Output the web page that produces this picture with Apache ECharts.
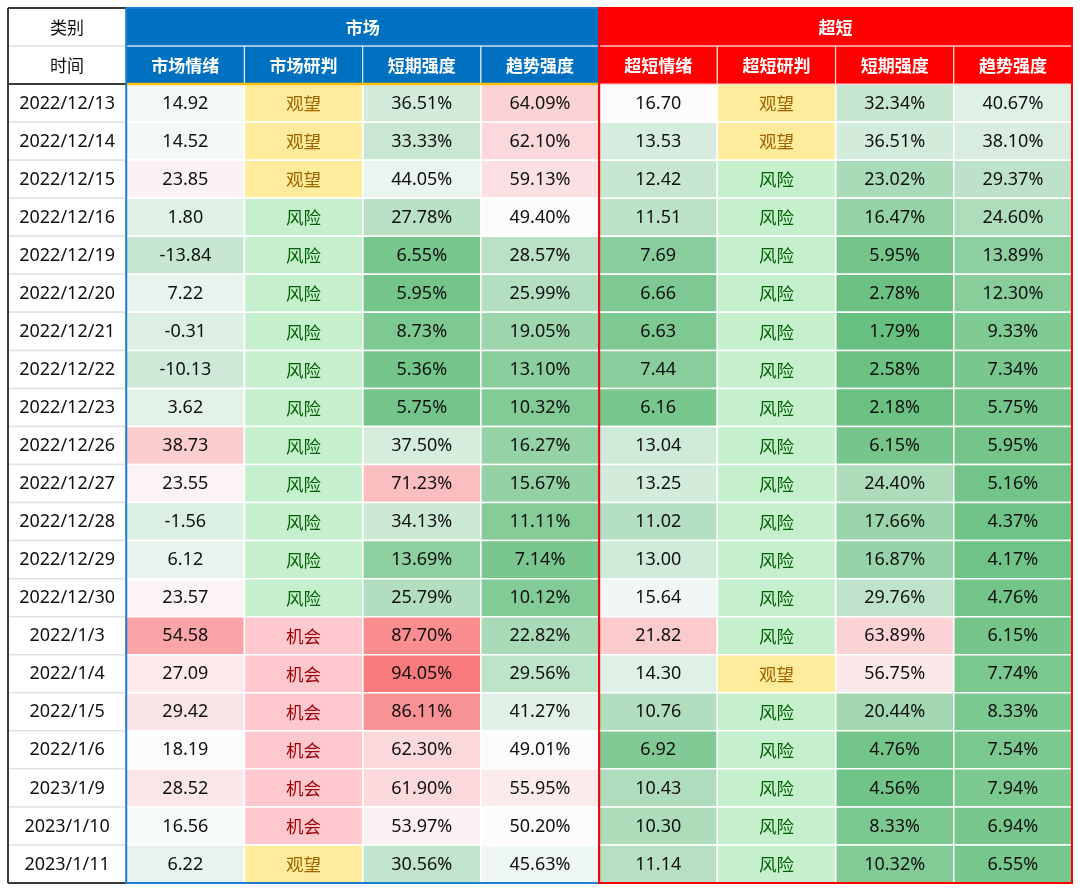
<!DOCTYPE html>
<html><head><meta charset="utf-8">
<script src="https://cdn.jsdelivr.net/npm/echarts/dist/echarts.min.js"></script>
<style>html,body{margin:0;padding:0;background:#fff}#c{width:1080px;height:892px}</style>
</head><body><div id="c"></div>
<script>
// ---------- data ----------
const cornerLabels = ['类别', '时间'];
const groupNames = ['市场', '超短'];
const colNames = ['市场情绪', '市场研判', '短期强度', '趋势强度', '超短情绪', '超短研判', '短期强度', '趋势强度'];
const dates = ['2022/12/13','2022/12/14','2022/12/15','2022/12/16','2022/12/19','2022/12/20','2022/12/21','2022/12/22','2022/12/23','2022/12/26','2022/12/27','2022/12/28','2022/12/29','2022/12/30','2022/1/3','2022/1/4','2022/1/5','2022/1/6','2023/1/9','2023/1/10','2023/1/11'];
const mktMood  = [14.92,14.52,23.85,1.80,-13.84,7.22,-0.31,-10.13,3.62,38.73,23.55,-1.56,6.12,23.57,54.58,27.09,29.42,18.19,28.52,16.56,6.22];
const mktJudge = ['观望','观望','观望','风险','风险','风险','风险','风险','风险','风险','风险','风险','风险','风险','机会','机会','机会','机会','机会','机会','观望'];
const mktShort = [36.51,33.33,44.05,27.78,6.55,5.95,8.73,5.36,5.75,37.50,71.23,34.13,13.69,25.79,87.70,94.05,86.11,62.30,61.90,53.97,30.56];
const mktTrend = [64.09,62.10,59.13,49.40,28.57,25.99,19.05,13.10,10.32,16.27,15.67,11.11,7.14,10.12,22.82,29.56,41.27,49.01,55.95,50.20,45.63];
const ultMood  = [16.70,13.53,12.42,11.51,7.69,6.66,6.63,7.44,6.16,13.04,13.25,11.02,13.00,15.64,21.82,14.30,10.76,6.92,10.43,10.30,11.14];
const ultJudge = ['观望','观望','风险','风险','风险','风险','风险','风险','风险','风险','风险','风险','风险','风险','风险','观望','风险','风险','风险','风险','风险'];
const ultShort = [32.34,36.51,23.02,16.47,5.95,2.78,1.79,2.58,2.18,6.15,24.40,17.66,16.87,29.76,63.89,56.75,20.44,4.76,4.56,8.33,10.32];
const ultTrend = [40.67,38.10,29.37,24.60,13.89,12.30,9.33,7.34,5.75,5.95,5.16,4.37,4.17,4.76,6.15,7.74,8.33,7.54,7.94,6.94,6.55];

// ---------- styles ----------
const FONT = "'Noto Sans', 'Noto Sans CJK SC', sans-serif";
const CJK = "'Noto Sans CJK SC', sans-serif";
const GREEN = [99,190,123], WHITE = [252,252,255], RED = [248,105,107];
const judgeStyle = {
  '观望': {bg:'#FFEB9C', fg:'#9C6500'},
  '风险': {bg:'#C6EFCE', fg:'#006100'},
  '机会': {bg:'#FFC7CE', fg:'#9C0006'}
};
const BLUE = '#0070C0', REDH = '#FF0000';

function mix(a, b, t) { return 'rgb(' + a.map((v, i) => Math.round(v + (b[i] - v) * t)).join(',') + ')'; }
function heat(v, sc) {
  if (v <= sc[1]) return mix(WHITE, GREEN, Math.min(1, (sc[1] - v) / (sc[1] - sc[0])));
  return mix(WHITE, RED, Math.min(1, (v - sc[1]) / (sc[2] - sc[1])));
}

// numeric columns: [column index, values, formatter, colour scale lo/mid/hi]
const fix2 = v => v.toFixed(2), pct = v => v.toFixed(2) + '%';
const numCols = [
  [1, mktMood, fix2, [-80, 20, 78]],
  [3, mktShort, pct, [0, 50, 100]],
  [4, mktTrend, pct, [0, 50, 100]],
  [5, ultMood, fix2, [4.5, 16.6, 32]],
  [7, ultShort, pct, [0, 50, 100]],
  [8, ultTrend, pct, [0, 50, 100]]
];
const judgeCols = [[2, mktJudge], [6, ultJudge]];

const ROW0 = 2; // first data row (after two header rows)
const numItems = [];
numCols.forEach(([c, vals, f, sc]) => vals.forEach((v, i) => numItems.push({value: [c, i + ROW0, v], text: f(v), fill: heat(v, sc)})));
const judgeItems = [];
judgeCols.forEach(([c, vals]) => vals.forEach((v, i) => judgeItems.push({value: [c, i + ROW0], text: v, fill: judgeStyle[v].bg, fg: judgeStyle[v].fg})));
const dateItems = cornerLabels.map((t, i) => ({value: [0, i], text: t})).concat(dates.map((d, i) => ({value: [0, i + ROW0], text: d})));
const headerItems = [
  {value: [1, 4, 0], text: groupNames[0], fill: BLUE, line: '#9DC3E6'},
  {value: [5, 8, 0], text: groupNames[1], fill: REDH, line: '#FF9A9A'}
].concat(colNames.map((n, i) => ({value: [i + 1, i + 1, 1], text: n, fill: i < 4 ? BLUE : REDH, line: i < 4 ? '#D6E6F5' : '#FFD0D0'})));

function cell(api, x0, x1, row) {
  const a = api.coord([x0, row]), b = api.coord([x1, row]), s = api.size([1, 1]);
  return {x: a[0] - s[0] / 2, y: a[1] - s[1] / 2, width: b[0] - a[0] + s[0], height: s[1]};
}
function txt(r, text, fill, bold, fam, size) {
  return {type: 'text', x: r.x + r.width / 2, y: r.y + r.height / 2 + 0.5,
    style: {text: text, align: 'center', verticalAlign: 'middle', fill: fill, fontSize: size || 18, fontWeight: bold ? 'bold' : 'normal', fontFamily: fam || FONT}};
}

const rowCats = ['h0', 'h1'].concat(dates);
const option = {
  animation: false,
  grid: {left: 8, right: 8, top: 8, bottom: 9},
  xAxis: {type: 'category', data: ['0','1','2','3','4','5','6','7','8'], show: false},
  yAxis: {type: 'category', data: rowCats, inverse: true, show: false},
  series: [
    { // date column + corner
      type: 'custom', data: dateItems, z: 2,
      renderItem: (params, api) => {
        const it = dateItems[params.dataIndex];
        const r = cell(api, api.value(0), api.value(0), api.value(1));
        const corner = params.dataIndex < 2;
        return {type: 'group', children: [
          {type: 'rect', shape: r, style: {fill: '#fff', stroke: '#E3E3E3', lineWidth: 1.5}},
          txt(r, it.text, '#111', false, corner ? CJK : FONT, corner ? 17 : 18)
        ]};
      }
    },
    { // numeric heat cells
      type: 'custom', data: numItems, z: 2,
      renderItem: (params, api) => {
        const it = numItems[params.dataIndex];
        const r = cell(api, api.value(0), api.value(0), api.value(1));
        return {type: 'group', children: [
          {type: 'rect', shape: r, style: {fill: it.fill, stroke: '#fff', lineWidth: 1.5}},
          txt(r, it.text, '#111', false)
        ]};
      }
    },
    { // judgement cells
      type: 'custom', data: judgeItems, z: 2,
      renderItem: (params, api) => {
        const it = judgeItems[params.dataIndex];
        const r = cell(api, api.value(0), api.value(0), api.value(1));
        return {type: 'group', children: [
          {type: 'rect', shape: r, style: {fill: it.fill, stroke: '#fff', lineWidth: 1.5}},
          txt(r, it.text, it.fg, false, CJK, 17.5)
        ]};
      }
    },
    { // headers
      type: 'custom', data: headerItems, z: 3,
      renderItem: (params, api) => {
        const it = headerItems[params.dataIndex];
        const r = cell(api, api.value(0), api.value(1), api.value(2));
        return {type: 'group', children: [
          {type: 'rect', shape: r, style: {fill: it.fill, stroke: it.line, lineWidth: 1.2}},
          txt(r, it.text, '#fff', true, CJK, 17)
        ]};
      }
    },
    { // frames
      type: 'custom', data: [[0]], z: 5, silent: true,
      renderItem: (params, api) => {
        const last = rowCats.length - 1;
        const L = c => api.coord([c, 0])[0] - api.size([1, 1])[0] / 2;
        const R = c => api.coord([c, 0])[0] + api.size([1, 1])[0] / 2;
        const T = r => api.coord([0, r])[1] - api.size([1, 1])[1] / 2;
        const B = r => api.coord([0, r])[1] + api.size([1, 1])[1] / 2;
        const line = (x1, y1, x2, y2, c, w) => ({type: 'line', shape: {x1, y1, x2, y2}, style: {stroke: c, lineWidth: w}});
        const box = (c0, c1, c, w) => ({type: 'rect', shape: {x: L(c0), y: T(0), width: R(c1) - L(c0), height: B(last) - T(0)}, style: {fill: 'none', stroke: c, lineWidth: w}});
        return {type: 'group', children: [
          line(L(0), T(0), R(0), T(0), '#3A3A3A', 2),
          line(L(0), T(0), L(0), B(last), '#3A3A3A', 2),
          line(L(0), B(last), R(0), B(last), '#3A3A3A', 2),
          line(L(0), B(1), R(0), B(1), '#3A3A3A', 2),
          line(L(1), B(1), R(4), B(1), '#FFC000', 2.5),
          box(1, 4, '#1F7DD0', 2),
          box(5, 8, '#FF0000', 2)
        ]};
      }
    }
  ]
};
const chart = echarts.init(document.getElementById('c'), null, {renderer: 'canvas'});
chart.setOption(option);
</script>
</body></html>
